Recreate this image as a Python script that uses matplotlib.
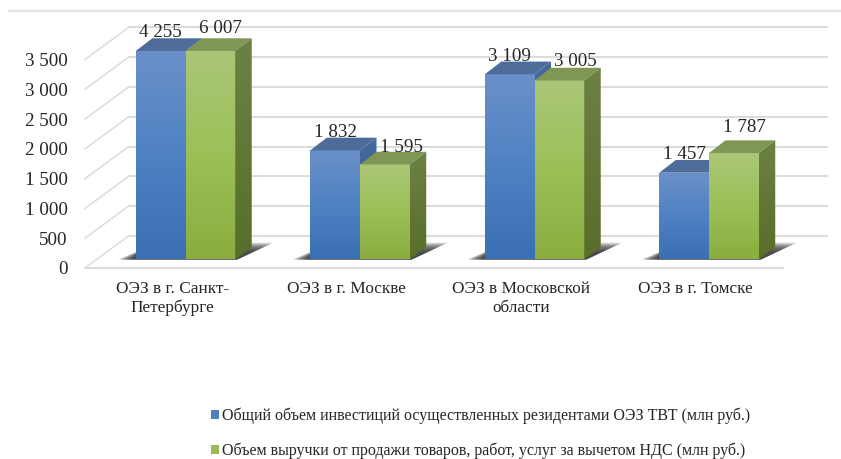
import numpy as np
import matplotlib
matplotlib.use("Agg")
import matplotlib.pyplot as plt
from matplotlib.patches import Polygon, Rectangle
from matplotlib.lines import Line2D
from matplotlib.transforms import IdentityTransform

categories = ["ОЭЗ в г. Санкт-\nПетербурге", "ОЭЗ в г. Москве", "ОЭЗ в Московской\nобласти", "ОЭЗ в г. Томске"]
investments = [4255, 1832, 3109, 1457]
revenue = [6007, 1595, 3005, 1787]
series_names = ["Общий объем инвестиций осуществленных резидентами ОЭЗ ТВТ (млн руб.)",
                "Объем выручки от продажи товаров, работ, услуг за вычетом НДС (млн руб.)"]
yticks = [0, 500, 1000, 1500, 2000, 2500, 3000, 3500]

# label shift from the top of the bar, pixels
inv_label_shift = [(0, 18), (0, 18), (0, 18), (0, 18)]
rev_label_shift = [(10, 22), (17, 17), (16, 19), (11, 26)]

W, H = 841, 459
GRID = "#dcdcdc"
BAR_W = 0.285
DEPTH = (16.5, 12.7)  # bar depth in pixels
BAR_POS = (13.25, 8.5)  # bars stand this far from the floor edge
WALL = (43.5, 32)  # back wall

plt.rcParams["font.family"] = ["Liberation Serif", "DejaVu Serif"]

fig = plt.figure(figsize=(W / 100, H / 100), dpi=100)
ax = fig.add_axes([85 / W, 1 - 268 / H, 698 / W, 208.5 / H])
ax.set_xlim(-0.5, 3.5)
ax.set_ylim(0, 3500)
ax.patch.set_visible(False)
for s in ax.spines.values():
    s.set_visible(False)
ident = IdentityTransform()


def to_px(x, y):
    return ax.transData.transform((x, y))


def gradient(cols, low, high, x0, x1, clip=None, z=3):
    # first colour goes on top
    arr = np.array([matplotlib.colors.to_rgb(c) for c in cols])
    pos = np.linspace(0, 1, len(cols))
    t = np.linspace(0, 1, 128)
    img = np.stack([np.interp(t, pos, arr[:, i]) for i in range(3)], axis=1)[:, None, :]
    im = ax.imshow(img, extent=[x0, x1, low, high], origin="upper", aspect="auto",
                   transform=ident, zorder=z, interpolation="bilinear")
    if clip is None:
        clip = Rectangle((x0, low), x1 - x0, high - low, transform=ident)
    im.set_clip_box(fig.bbox)
    im.set_clip_path(clip)
    return im


# walls
for v in yticks:
    x0, y0 = to_px(-0.5, v)
    x1, y1 = to_px(3.5, v)
    ax.add_line(Line2D([x0, x0 + WALL[0]], [y0, y0 + WALL[1]], color=GRID, lw=1.1, transform=ident, clip_on=False, zorder=1))
    ax.add_line(Line2D([x0 + WALL[0], x1 + WALL[0]], [y0 + WALL[1], y1 + WALL[1]], color=GRID, lw=1.5, transform=ident, clip_on=False, zorder=1))
x0, y0 = to_px(-0.5, 0)
x1, y1 = to_px(3.5, 0)
ax.add_line(Line2D([x0, x1], [y0, y1], color=GRID, lw=1.5, transform=ident, clip_on=False, zorder=1))

# shadows under each pair of bars
for i in range(len(categories)):
    bx0, by = to_px(i - BAR_W, 0) + np.array(BAR_POS)
    bx1, _ = to_px(i + BAR_W, 0) + np.array(BAR_POS)
    for k in range(24):
        g = 1 - k / 23
        pts = [(bx0 - 17 * g - 1, by), (bx1 + 2, by),
               (bx1 + 16.5 + 22 * g, by + 7 + 10 * g), (bx0 + 22 * g, by + 7 + 10 * g)]
        ax.add_patch(Polygon(pts, closed=True, fc="#3a3a3a", ec="none", alpha=0.09, transform=ident, zorder=2, clip_on=False))

# bars
blue = dict(front=["#6b90c9", "#4f82c3", "#3a6fb3"], top="#4e6c99", side=["#466a9b", "#365a8c"])
green = dict(front=["#abc678", "#9cc057", "#8bad3f"], top="#7f9655", side=["#6d8144", "#586e2a"])


def draw_bar(xc, value, st, shift):
    top = min(value, ax.get_ylim()[1])
    left, base = to_px(xc - BAR_W / 2, 0) + np.array(BAR_POS)
    right, ytop = to_px(xc + BAR_W / 2, top) + np.array(BAR_POS)
    gradient(st["front"], base, ytop, left, right)
    dx, dy = DEPTH
    ax.add_patch(Polygon([(left, ytop), (right, ytop), (right + dx, ytop + dy), (left + dx, ytop + dy)],
                         fc=st["top"], ec="none", transform=ident, zorder=3, clip_on=False))
    side = Polygon([(right, base), (right + dx, base + dy), (right + dx, ytop + dy), (right, ytop)],
                   fc="none", ec="none", transform=ident, clip_on=False)
    ax.add_patch(side)
    gradient(st["side"], base, ytop + dy, right, right + dx, clip=side)
    txt = f"{value:,}".replace(",", " ")
    ax.text((left + right) / 2 + shift[0], ytop + shift[1], txt, transform=ident, ha="center", va="center",
            fontsize=13.7, color="#262626", zorder=6, clip_on=False)


for i in range(len(categories)):
    draw_bar(i - BAR_W / 2, investments[i], blue, inv_label_shift[i])
    draw_bar(i + BAR_W / 2, revenue[i], green, rev_label_shift[i])

ax.set_xlim(-0.5, 3.5)
ax.set_ylim(0, 3500)
ax.set_yticks(yticks)
ax.set_yticklabels([f"{v:,}".replace(",", " ") for v in yticks], fontsize=13.7, color="#262626", va="center_baseline")
ax.set_xticks(range(len(categories)))
ax.set_xticklabels(categories, fontsize=12.4, color="#262626", linespacing=1.2)
ax.tick_params(axis="y", length=0, pad=12.5)
ax.tick_params(axis="x", length=0, pad=9.5)

# frame line on top
fig.add_artist(Line2D([9 / W, 1], [1 - 11 / H, 1 - 11 / H], color="#e4e4e4", lw=1.5))

# legend
handles = [Rectangle((0, 0), 1, 1, fc="#4f81bd", ec="none"), Rectangle((0, 0), 1, 1, fc="#9bbb59", ec="none")]
fig.legend(handles, series_names, loc="upper left", bbox_to_anchor=(211 / W, 1 - 408 / H), bbox_transform=fig.transFigure,
           frameon=False, fontsize=11.55, handlelength=0.5, handleheight=0.5, handletextpad=0.2,
           labelspacing=1.15, borderpad=0, borderaxespad=0, labelcolor="#262626")

fig.savefig("out.png", dpi=100)
